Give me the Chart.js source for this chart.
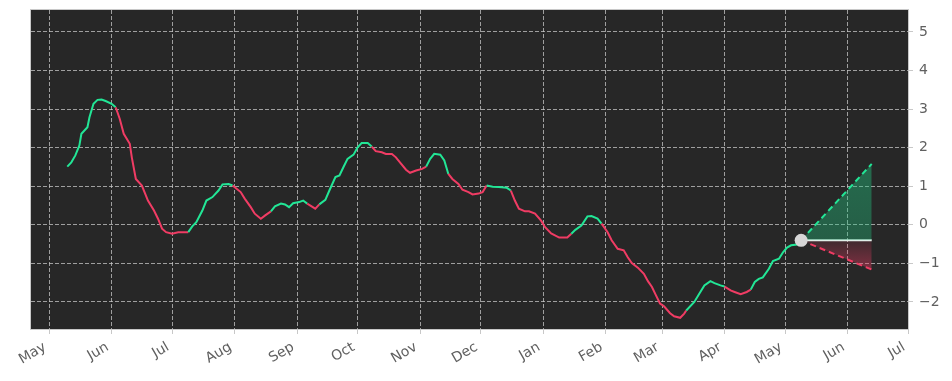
<!DOCTYPE html>
<html lang="en">
<head>
    <meta charset="UTF-8">
    <title>Trend forecast</title>
    <script src="https://cdn.jsdelivr.net/npm/chart.js"></script>
    <style>
        html, body {
            margin: 0;
            background: #fff;
        }
        .chart-container {
            width: 952px;
            height: 381px;
        }
    </style>
</head>
<body>
    <div class="chart-container">
        <canvas id="trendChart"></canvas>
    </div>

    <script>
        // Days counted from 1 May of the first year
        const monthDays = [0, 31, 61, 92, 123, 153, 184, 214, 245, 276, 304, 335, 365, 396, 426];
        const monthLabels = ['May', 'Jun', 'Jul', 'Aug', 'Sep', 'Oct', 'Nov', 'Dec', 'Jan', 'Feb', 'Mar', 'Apr', 'May', 'Jun', 'Jul'];

        const days = [9, 11, 13, 15, 16, 19, 20, 22, 24, 26, 28, 31, 33, 35, 37, 40, 41, 43, 46, 49,
            52, 54, 56, 58, 61, 64, 67, 69, 71, 73, 76, 78, 81, 84, 86, 89, 91, 95, 97, 100,
            102, 105, 107, 110, 112, 115, 117, 119, 121, 124, 126, 128, 132, 134, 137, 139, 142, 144, 146, 148,
            151, 153, 155, 158, 160, 162, 165, 167, 170, 172, 174, 177, 179, 182, 185, 187, 189, 191, 194, 196,
            198, 200, 203, 205, 208, 210, 213, 215, 217, 220, 223, 227, 229, 231, 233, 236, 238, 241, 244, 246,
            249, 253, 257, 259, 261, 264, 267, 269, 272, 274, 277, 279, 282, 285, 287, 289, 292, 295, 297, 299,
            301, 303, 305, 308, 310, 313, 315, 316, 320, 323, 325, 328, 330, 333, 335, 338, 340, 343, 346, 348,
            350, 352, 354, 357, 359, 362, 364, 366, 368, 371, 373];
        const values = [1.51, 1.62, 1.80, 2.06, 2.36, 2.53, 2.79, 3.14, 3.24, 3.25, 3.21, 3.14, 3.05, 2.75, 2.36, 2.10, 1.75, 1.19, 1.02, 0.63,
            0.37, 0.16, -0.10, -0.19, -0.23, -0.19, -0.19, -0.19, -0.04, 0.07, 0.37, 0.63, 0.72, 0.89, 1.05, 1.06, 1.02, 0.85, 0.68, 0.46,
            0.29, 0.16, 0.24, 0.35, 0.48, 0.55, 0.53, 0.46, 0.56, 0.59, 0.63, 0.55, 0.42, 0.53, 0.65, 0.89, 1.24, 1.28, 1.50, 1.71,
            1.82, 2.01, 2.12, 2.12, 2.03, 1.91, 1.88, 1.84, 1.84, 1.75, 1.62, 1.43, 1.35, 1.41, 1.45, 1.51, 1.71, 1.84, 1.82, 1.67,
            1.32, 1.19, 1.06, 0.91, 0.85, 0.79, 0.81, 0.85, 1.02, 0.99, 0.98, 0.96, 0.89, 0.63, 0.42, 0.35, 0.35, 0.29, 0.11, -0.06,
            -0.22, -0.33, -0.33, -0.23, -0.13, -0.02, 0.22, 0.23, 0.16, 0.03, -0.19, -0.40, -0.62, -0.66, -0.84, -0.99, -1.11, -1.27, -1.46, -1.61,
            -1.83, -2.04, -2.11, -2.29, -2.37, -2.41, -2.30, -2.22, -2.00, -1.74, -1.57, -1.46, -1.51, -1.57, -1.60, -1.70, -1.74, -1.80, -1.74, -1.68,
            -1.48, -1.40, -1.36, -1.14, -0.94, -0.88, -0.71, -0.59, -0.53, -0.51, -0.40];

        // Periods where the trend is rising (drawn green), the rest is falling (red)
        const upRanges = [[9, 33], [70, 92], [109, 129], [134, 160], [187, 197], [217, 229], [259, 274], [316, 335], [348, 373]];

        // Forecast cone
        const forecastDays = [373, 408];
        const forecastHigh = [-0.40, 1.58];
        const forecastMid = [-0.40, -0.40];
        const forecastLow = [-0.40, -1.16];

        const yTicks = [-2, -1, 0, 1, 2, 3, 4, 5];

        const GREEN = '#22e696';
        const RED = '#f03c64';

        const toPoints = (xs, ys) => xs.map((x, i) => ({ x: x, y: ys[i] }));

        function isUp(day) {
            return upRanges.some(r => day >= r[0] && day <= r[1]);
        }

        function coneGradient(context, colorFar, colorNear, far) {
            const chart = context.chart;
            if (!chart.chartArea) return colorFar;
            const y = chart.scales.y;
            const g = chart.ctx.createLinearGradient(0, y.getPixelForValue(forecastMid[0]), 0, y.getPixelForValue(far));
            g.addColorStop(0, colorNear);
            g.addColorStop(1, colorFar);
            return g;
        }

        // plot background and frame
        const plotFrame = {
            id: 'plotFrame',
            beforeDraw(chart) {
                const { ctx, chartArea: a } = chart;
                ctx.save();
                ctx.fillStyle = '#272727';
                ctx.fillRect(a.left, a.top, a.right - a.left, a.bottom - a.top);
                ctx.restore();
            },
            afterDraw(chart) {
                const { ctx, chartArea: a } = chart;
                ctx.save();
                ctx.strokeStyle = '#c8c8c8';
                ctx.lineWidth = 1;
                ctx.strokeRect(a.left - 0.5, a.top - 0.5, a.right - a.left + 1, a.bottom - a.top + 1);
                ctx.restore();
            }
        };

        const ctx = document.getElementById('trendChart').getContext('2d');
        const trendChart = new Chart(ctx, {
            type: 'line',
            data: {
                datasets: [
                    {
                        // last point
                        data: toPoints([days[days.length - 1]], [values[values.length - 1]]),
                        showLine: false,
                        pointRadius: 6.5,
                        pointBackgroundColor: '#d6d6d6',
                        pointBorderWidth: 0,
                        order: -1
                    },
                    {
                        data: toPoints(days, values),
                        borderWidth: 2,
                        pointRadius: 0,
                        tension: 0,
                        borderColor: GREEN,
                        segment: {
                            borderColor: c => isUp((c.p0.parsed.x + c.p1.parsed.x) / 2) ? GREEN : RED
                        }
                    },
                    {
                        data: toPoints(forecastDays, forecastHigh),
                        borderColor: GREEN,
                        borderWidth: 2,
                        borderDash: [6, 4],
                        pointRadius: 0,
                        fill: 3,
                        backgroundColor: c => coneGradient(c, 'rgba(34,200,130,0.42)', 'rgba(34,200,130,0.34)', forecastHigh[1])
                    },
                    {
                        data: toPoints(forecastDays, forecastMid),
                        borderColor: '#f2f2f2',
                        borderWidth: 2,
                        pointRadius: 0
                    },
                    {
                        data: toPoints(forecastDays, forecastLow),
                        borderColor: RED,
                        borderWidth: 2,
                        borderDash: [6, 4],
                        pointRadius: 0,
                        fill: 3,
                        backgroundColor: c => coneGradient(c, 'rgba(240,60,100,0.45)', 'rgba(240,60,100,0.12)', forecastLow[1])
                    }
                ]
            },
            options: {
                responsive: true,
                maintainAspectRatio: false,
                animation: false,
                layout: {
                    padding: { left: 31, top: 10, right: 0, bottom: 0 }
                },
                plugins: {
                    legend: { display: false },
                    tooltip: { enabled: false }
                },
                scales: {
                    x: {
                        type: 'linear',
                        min: -9,
                        max: 426,
                        afterBuildTicks: axis => {
                            axis.ticks = monthDays.map(v => ({ value: v }));
                        },
                        afterFit: axis => {
                            axis.height = 52;
                            axis.paddingLeft = 0;
                            axis.paddingRight = 0;
                            axis.paddingTop = 0;
                            axis.paddingBottom = 0;
                        },
                        ticks: {
                            autoSkip: false,
                            minRotation: 30,
                            maxRotation: 30,
                            padding: 5,
                            labelOffset: -4,
                            color: '#606060',
                            font: { family: 'DejaVu Sans', size: 14 },
                            callback: v => monthLabels[monthDays.indexOf(v)]
                        },
                        grid: {
                            color: 'rgba(200,200,200,0.75)',
                            lineWidth: 1,
                            tickLength: 5,
                            tickColor: '#c8c8c8',
                            tickBorderDash: []
                        },
                        border: { display: false, dash: [4, 2] }
                    },
                    y: {
                        position: 'right',
                        min: -2.7,
                        max: 5.57,
                        afterBuildTicks: axis => {
                            axis.ticks = yTicks.map(v => ({ value: v }));
                        },
                        afterFit: axis => {
                            axis.width = 44;
                            axis.paddingTop = 0;
                            axis.paddingBottom = 0;
                            axis.paddingLeft = 0;
                            axis.paddingRight = 0;
                        },
                        ticks: {
                            padding: 6,
                            color: '#606060',
                            font: { family: 'DejaVu Sans', size: 14 },
                            callback: v => String(v).replace('-', '\u2212')
                        },
                        grid: {
                            color: 'rgba(200,200,200,0.75)',
                            lineWidth: 1,
                            tickLength: 5,
                            tickColor: '#c8c8c8',
                            tickBorderDash: []
                        },
                        border: { display: false, dash: [4, 2] }
                    }
                }
            },
            plugins: [plotFrame]
        });
    </script>
</body>
</html>
